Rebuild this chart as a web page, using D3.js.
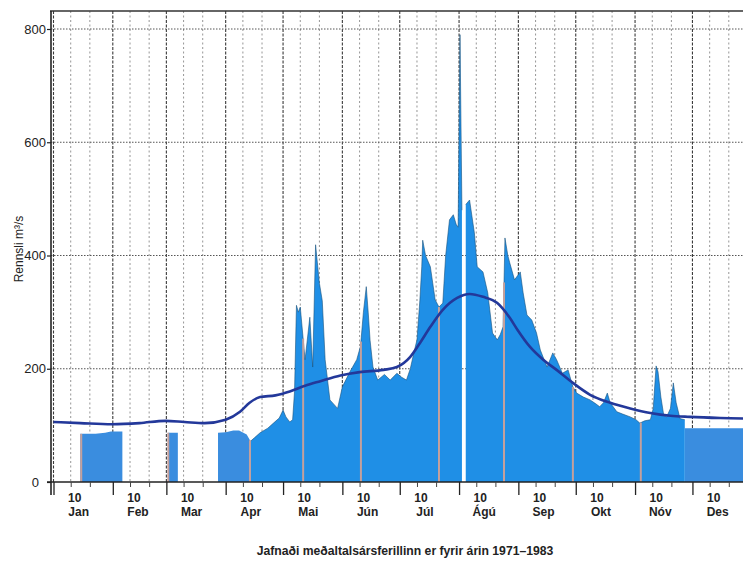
<!DOCTYPE html>
<html>
<head>
<meta charset="utf-8">
<script src="https://cdn.jsdelivr.net/npm/d3@7"></script>
<style>
  body { margin: 0; background: #fff; }
  svg { display: block; }
  text { font-family: "Liberation Sans", Arial, Helvetica, sans-serif; fill: #222; }
</style>
</head>
<body>
<svg id="chart" width="743" height="562"></svg>
<script>
// Calendar: month names and the day-of-year (0-based) each month starts on
const months = ["Jan", "Feb", "Mar", "Apr", "Mai", "Jún", "Júl", "Ágú", "Sep", "Okt", "Nóv", "Des"];
const monthStart = [0, 31, 59, 90, 120, 151, 181, 212, 243, 273, 304, 334];
const yTicks = [0, 200, 400, 600, 800];

// Measured daily discharge trace (day of year, m³/s); null marks a gap
const flowDay = [103,105,108,112,115,118,120,121.5,123.5,125,
  126,127,128,129,131.5,134,135.5,137,139,140.5,
  142,144.5,148.5,151,155,158.5,160.5,162,163.5,164.5,
  165.5,167,169.5,173,176,179.5,182,184.5,186.5,188.5,
  190,191.5,192.5,193,194.5,197,199.5,201.5,203.5,205,
  207,209,210.5,211.5,212.5,213.5,214,215.5,217.5,220,
  221.5,224.5,227,229.5,232,233.5,235,236,237.5,238.5,
  241,244,245.5,247.5,250,252.5,254.5,258,261,263,
  266,269,271.5,273.5,277,280.5,283.5,285.5,287.5,289.5,
  291,294.5,297.5,301.5,304.5,306.5,309,312,313.5,315,
  316,317.5,319,320.5,322.5,324,325.5,327.5,330];
const flowRate = [72,78,87,95,104,113,127,115,106,110,
  160,312,300,309,216,291,203,419,351,320,
  216,145,130,168,195,216,240,300,345,300,
  250,203,180,190,180,192,185,180,200,230,
  251,320,380,427,400,380,322,309,316,400,
  463,472,455,450,790,480,null,490,498,440,
  380,371,334,263,251,260,274,431,400,387,
  357,371,334,295,286,263,233,203,228,216,
  192,198,168,157,150,145,138,133,140,157,
  140,124,120,115,110,104,108,110,130,205,
  195,150,118,115,130,175,140,112,110];

// Estimated winter discharge blocks; null separates the blocks
const estDay  = [14,22,27,30,36,37, 60,65,66, 86,90,94,97,101,103,104, 330,365];
const estRate = [85,85,87,89,89,null, 87,87,null, 87,88,91,91,84,72,null, 95,95];

// Smoothed mean annual hydrograph, 1971–1983
const meanDay  = [0,14,30.5,45,58.5,68.5,79,90,97.5,102.5,108,116,123.5,131.5,139.5,150,160,172.5,179.5,186.5,191.5,197,203.5,211,217.5,224.5,232,238.5,242.5,249,256,263,271.5,280.5,291,301.5,312,322.5,332.5,348.5,365];
const meanRate = [106,104,102,104,108,106,104,110,124,140,150,153,160,170,178,188,194,198,203,221,245,274,304,325,332,327,316,290,269,239,216,198,175,154,140,130,122,117,115,113,112];

// Days on which discharge gaugings were made
const gaugingDay = [14.5, 60, 102.7, 130.5, 160.7, 201.5, 235.5, 271.5, 307];

const svg = d3.select("#chart");
const x = d3.scaleLinear().domain([0, 365]).range([53.5, 53.5 + 1.913 * 365]);
const y = d3.scaleLinear().domain([0, 800]).range([482, 29]);
const axisX = 51, topY = 11;

// ---- grid ----
const grid = svg.append("g");
const gridDays = [];
monthStart.forEach(ms => { gridDays.push({d: ms, major: true}); gridDays.push({d: ms + 9}); gridDays.push({d: ms + 19}); });
grid.selectAll("line.v").data(gridDays).join("line")
  .attr("x1", g => x(g.d)).attr("x2", g => x(g.d))
  .attr("y1", topY).attr("y2", y(0))
  .attr("stroke", g => g.major ? "#3a3a3a" : "#8a8a8a")
  .attr("stroke-width", g => g.major ? 1.1 : 0.9)
  .attr("stroke-dasharray", g => g.major ? "3,1.5" : "2,2.5");
grid.selectAll("line.h").data(yTicks.filter(v => v > 0)).join("line")
  .attr("x1", axisX).attr("x2", 743)
  .attr("y1", v => y(v)).attr("y2", v => y(v))
  .attr("stroke", "#555").attr("stroke-width", 1).attr("stroke-dasharray", "1.5,1.5");

// ---- discharge areas ----
const flow = flowDay.map((d, i) => ({d, v: flowRate[i]}));
const est = estDay.map((d, i) => ({d, v: estRate[i]}));
const area = d3.area().defined(p => p.v !== null)
  .x(p => x(p.d)).y0(y(0)).y1(p => y(p.v));
const topLine = d3.line().defined(p => p.v !== null)
  .x(p => x(p.d)).y(p => y(p.v));

svg.append("path").datum(est).attr("d", area).attr("fill", "#3a8ddf");
svg.append("path").datum(flow).attr("d", area).attr("fill", "#1f8fe6");
svg.append("path").datum(flow).attr("d", topLine)
  .attr("fill", "none").attr("stroke", "#17507c").attr("stroke-width", 0.9).attr("stroke-opacity", 0.65);

// gauging markers reach up to the discharge fill at that day
function segments(arr) {
  const out = []; let cur = [];
  arr.forEach(p => { if (p.v === null) { if (cur.length) out.push(cur); cur = []; } else cur.push(p); });
  if (cur.length) out.push(cur);
  return out;
}
const allSegs = segments(est).concat(segments(flow));
function topAt(day) {
  let best = 0;
  allSegs.forEach(s => {
    if (day < s[0].d || day > s[s.length - 1].d) return;
    for (let i = 0; i < s.length - 1; i++) {
      if (day >= s[i].d && day <= s[i + 1].d) {
        const t = (day - s[i].d) / ((s[i + 1].d - s[i].d) || 1);
        best = Math.max(best, s[i].v + t * (s[i + 1].v - s[i].v));
      }
    }
  });
  return best;
}
svg.selectAll("line.gauge").data(gaugingDay).join("line")
  .attr("x1", d => x(d)).attr("x2", d => x(d))
  .attr("y1", y(0)).attr("y2", d => y(topAt(d)))
  .attr("stroke", "#c4a09c").attr("stroke-width", 2);

// ---- mean annual curve ----
const mean = meanDay.map((d, i) => ({d, v: meanRate[i]}));
svg.append("path").datum(mean)
  .attr("d", d3.line().x(p => x(p.d)).y(p => y(p.v)).curve(d3.curveMonotoneX))
  .attr("fill", "none").attr("stroke", "#23389a").attr("stroke-width", 2.6);

// ---- frame and axes ----
svg.append("line").attr("x1", axisX - 1).attr("x2", 743).attr("y1", topY).attr("y2", topY)
  .attr("stroke", "#333").attr("stroke-width", 1.6);
svg.append("line").attr("x1", axisX).attr("x2", axisX).attr("y1", topY).attr("y2", 495)
  .attr("stroke", "#222").attr("stroke-width", 1.6);
svg.append("line").attr("x1", axisX - 4).attr("x2", 743).attr("y1", y(0)).attr("y2", y(0))
  .attr("stroke", "#222").attr("stroke-width", 1.6);

const yAxis = svg.append("g").attr("transform", `translate(${axisX},0)`)
  .call(d3.axisLeft(y).tickValues(yTicks).tickSize(4).tickPadding(1));
yAxis.select(".domain").remove();
yAxis.selectAll("line").attr("stroke", "#222").attr("stroke-width", 1.2);
yAxis.selectAll("text").attr("font-size", 13).attr("fill", "#222")
  .attr("font-family", "Liberation Sans, Arial, sans-serif")
  .attr("dx", v => v === 0 ? -7 : 0);

const xMajor = svg.append("g").attr("transform", `translate(0,${y(0)})`)
  .call(d3.axisBottom(x).tickValues(monthStart).tickSize(13).tickFormat(""));
xMajor.select(".domain").remove();
xMajor.selectAll("line").attr("stroke", "#222").attr("stroke-width", 1.3);

const minorDays = monthStart.flatMap(ms => [ms + 9, ms + 19]);
const xMinor = svg.append("g").attr("transform", `translate(0,${y(0)})`)
  .call(d3.axisBottom(x).tickValues(minorDays).tickSize(5).tickFormat(""));
xMinor.select(".domain").remove();
xMinor.selectAll("line").attr("stroke", "#444").attr("stroke-width", 1);

const labelG = svg.append("g");
labelG.selectAll("text.ten").data(monthStart).join("text")
  .attr("x", ms => x(ms + 9) + 4).attr("y", 502)
  .attr("text-anchor", "middle").attr("font-size", 12).attr("font-weight", "bold")
  .text("10");
labelG.selectAll("text.mon").data(months).join("text")
  .attr("x", (m, i) => x(monthStart[i] + 9) + 8).attr("y", 516)
  .attr("text-anchor", "middle").attr("font-size", 12).attr("font-weight", "bold")
  .text(m => m);

// axis title
svg.append("text")
  .attr("transform", "translate(23,249) rotate(-90)")
  .attr("text-anchor", "middle").attr("font-size", 12).attr("fill", "#333")
  .text("Rennsli  m³/s");

// caption
svg.append("text").attr("x", 405).attr("y", 555)
  .attr("text-anchor", "middle").attr("font-size", 12.2).attr("font-weight", "bold")
  .text("Jafnaði meðaltalsársferillinn er fyrir árin 1971–1983");
</script>
</body>
</html>
